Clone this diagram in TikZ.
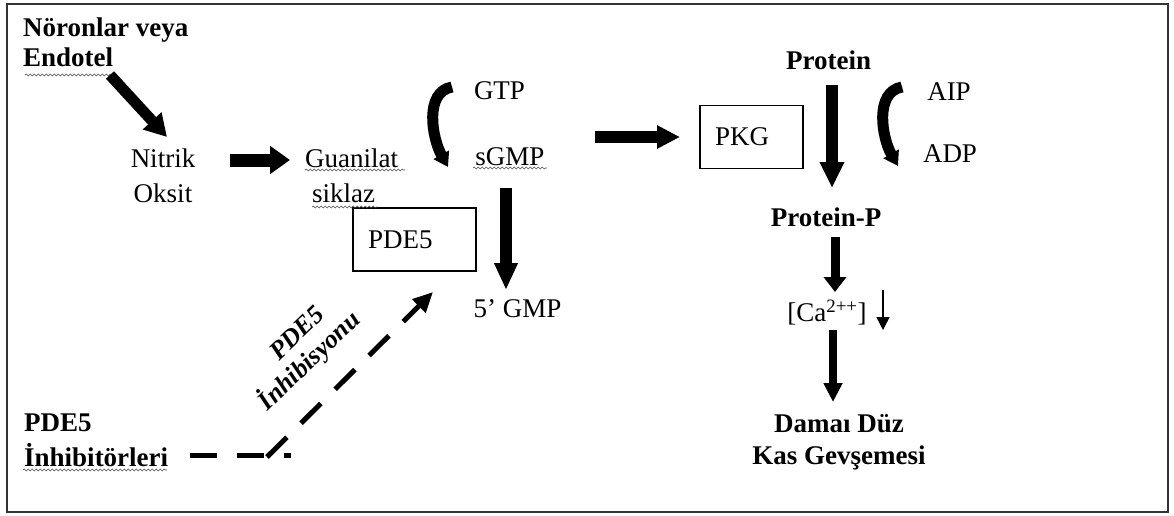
\documentclass[tikz,border=0pt]{standalone}
\usepackage{fontspec}
\setmainfont{Liberation Serif}
\usetikzlibrary{arrows.meta,calc,decorations.pathmorphing}
\begin{document}
\begin{tikzpicture}[x=1pt,y=-1pt,
  txt/.style={inner sep=0pt, font=\fontsize{27}{30}\selectfont},
  btxt/.style={inner sep=0pt, font=\fontsize{27}{30}\selectfont\bfseries},
  boxn/.style={draw, line width=1.3pt, inner ysep=0pt, inner xsep=15pt, minimum height=63pt, align=left, font=\fontsize{27}{30}\selectfont},
  fat/.style args={#1/#2/#3}{line width=#1pt, -{Triangle[width=#2pt,length=#3pt]}},
  wavy/.style={decorate, decoration={snake, segment length=4pt, amplitude=0.9pt}, line width=0.6pt, black!70},
  dasharrow/.style={line width=5pt, dash pattern=on 28pt off 20pt},
]
\useasboundingbox (0,0) rectangle (1174,516);
\draw[line width=1.3pt, black!80] (7,4) rectangle (1168,512);

% nodes
\node[btxt, anchor=north west, align=left] (noron) at (23,18) {Nöronlar veya\\Endotel};
\node[txt, align=center, font=\fontsize{27}{35}\selectfont] (no) at (163,175.3) {Nitrik\\Oksit};
\node[txt, anchor=north west, align=left, font=\fontsize{27}{35}\selectfont] (gs) at (305,148.6) {Guanilat\\\hspace*{7pt}siklaz};
\node[txt] (gtp) at (499.5,91) {GTP};
\node[txt] (sgmp) at (510,157) {sGMP};
\node[boxn, text width=93pt] (pde) at (414.5,239.5) {PDE5};
\node[txt] (gmp) at (517.5,309) {5' GMP};
\node[boxn, text width=73pt] (pkg) at (751.5,137) {PKG};
\node[btxt] (protein) at (828.5,60) {Protein};
\node[txt] (aip) at (949,91.5) {AIP};
\node[txt] (adp) at (950,153.5) {ADP};
\node[btxt] (proteinp) at (826,217.5) {Protein-P};
\node[txt] (ca) at (827,313) {[Ca\textsuperscript{2++}]};
\node[btxt, align=center, font=\fontsize{27}{32}\selectfont\bfseries] (relax) at (839,442.6) {Damaı Düz\\Kas Gevşemesi};
\node[btxt, anchor=north west, align=left, font=\fontsize{27}{35}\selectfont\bfseries] (inhib) at (24,414) {PDE5\\İnhibitörleri};
\node[inner sep=0pt, rotate=44, align=center, font=\fontsize{26}{28}\selectfont\bfseries\itshape] (inhlbl) at (301,352) {\hspace*{20pt}PDE5\\İnhibisyonu};

% wavy underlines
\draw[wavy] (25,75) -- (115,75);
\draw[wavy] (305,170) -- (405,170);
\draw[wavy] (312,207) -- (377,207);
\draw[wavy] (473,168) -- (547,168);
\draw[wavy] (23,470) -- (167,470);

% thick arrows
\draw[fat=11/24/22] ($(noron.north west)+(87,57)$) -- ($(no.center)+(4,-38.3)$);
\draw[fat=13/27/20] ($(no.center)+(67,-15.3)$) -- ($(gs.north west)+(-15,11.4)$);
\draw[fat=12/22/27] ($(sgmp.center)+(-4,31)$) -- ($(gmp.center)+(-11.5,-19)$);
\draw[fat=12/22/23] ($(sgmp.center)+(85,-20)$) -- ($(pkg.center)+(-71.5,0)$);
\draw[fat=12/23/26] ($(protein.center)+(3.5,25)$) -- ($(proteinp.center)+(6,-29.5)$);
\draw[fat=9/22/15] ($(proteinp.center)+(9,19.5)$) -- ($(ca.center)+(8,-21)$);
\draw[fat=8/18/19] ($(ca.center)+(6,17)$) -- ($(relax.center)+(-6,-40.6)$);
\draw[fat=1.5/13/13] ($(ca.center)+(56,-23)$) -- ($(ca.center)+(56,17)$);

% curved arrows
\draw[fat=11/17/14] ($(gtp.center)+(-47.5,-4)$) .. controls (424,92) and (432,138) .. ($(sgmp.center)+(-62,10)$);
\draw[fat=11/17/14] ($(aip.center)+(-47,-4.5)$) .. controls (874,92) and (882,138) .. ($(adp.center)+(-52,12.5)$);

% dashed inhibition path
\draw[line width=5pt, dash pattern=on 27pt off 20pt] ($(inhib.north west)+(166,41)$) -- ($(inhib.north west)+(267,41)$);
\draw[dasharrow, -{Triangle[width=18pt,length=20pt]}] ($(inhib.north west)+(243,43)$) -- ($(pde.center)+(18.5,52.5)$);
\end{tikzpicture}
\end{document}
